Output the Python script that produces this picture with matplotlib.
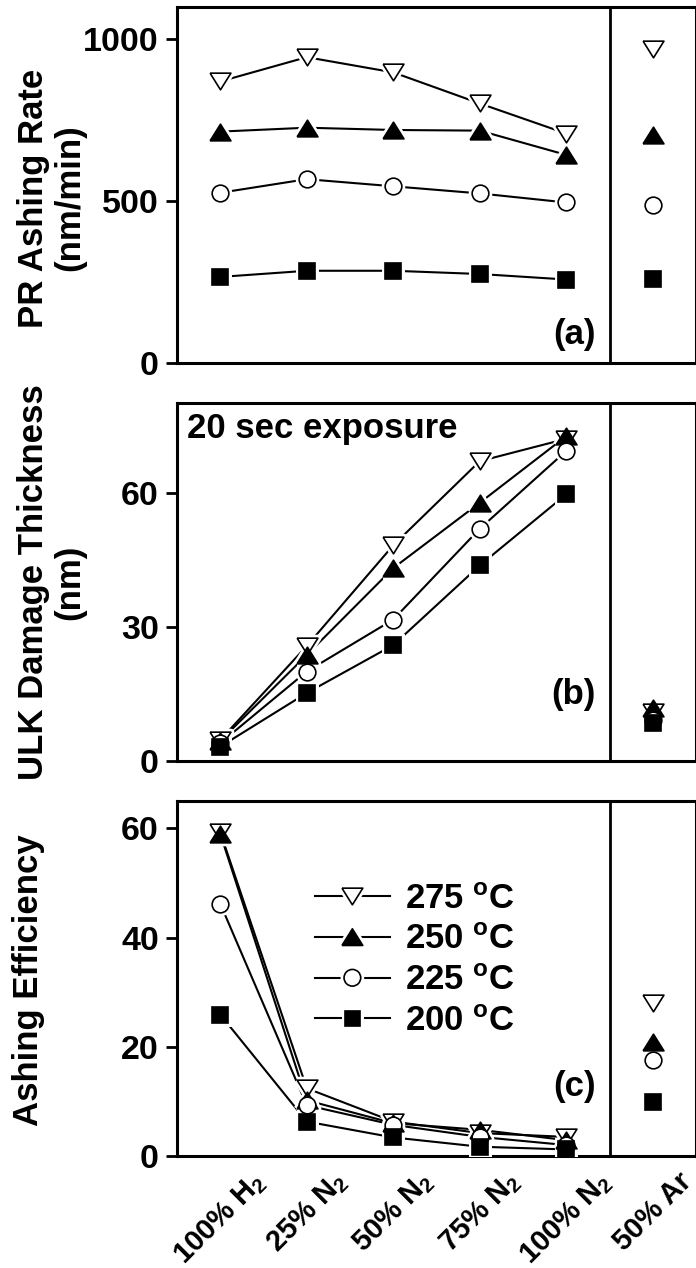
"""Ashing rate, ULK damage and ashing efficiency vs. gas mixture, three stacked panels."""
import matplotlib
matplotlib.use('Agg')
import matplotlib.pyplot as plt
import matplotlib.patheffects as pe
from matplotlib.lines import Line2D

plt.rcParams['font.family'] = ['Liberation Sans', 'DejaVu Sans']
plt.rcParams['font.weight'] = 'bold'
plt.rcParams['mathtext.fontset'] = 'custom'
plt.rcParams['mathtext.rm'] = 'Liberation Sans:bold'
plt.rcParams['mathtext.it'] = 'Liberation Sans:bold'
plt.rcParams['mathtext.bf'] = 'Liberation Sans:bold'
plt.rcParams['mathtext.default'] = 'rm'

# gas chemistries; the last one (50% Ar) sits in its own column
gases = ['100% H$_2$', '25% N$_2$', '50% N$_2$', '75% N$_2$', '100% N$_2$', '50% Ar']
temps = ['275 $^{o}$C', '250 $^{o}$C', '225 $^{o}$C', '200 $^{o}$C']

# (a) PR ashing rate, nm/min
rate_275 = [870, 945, 898, 802, 709, 969]
rate_250 = [715, 727, 720, 718, 643, 705]
rate_225 = [526, 568, 546, 524, 496, 488]
rate_200 = [266, 285, 285, 275, 258, 259]

# (b) ULK damage thickness after 20 s, nm
dmg_275 = [4.7, 25.7, 48.2, 67.0, 72.0, 11.0]
dmg_250 = [4.5, 23.7, 43.1, 57.7, 72.6, 11.8]
dmg_225 = [4.0, 20.0, 31.6, 51.9, 69.3, 9.2]
dmg_200 = [3.2, 15.2, 25.9, 43.7, 59.6, 8.6]

# (c) ashing efficiency
eff_275 = [59.3, 12.4, 6.3, 4.2, 3.5, 28.1]
eff_250 = [59.0, 10.2, 6.0, 4.8, 2.9, 20.9]
eff_225 = [46.2, 9.3, 5.7, 3.5, 2.0, 17.6]
eff_200 = [25.9, 6.3, 3.4, 1.7, 1.2, 9.9]

TRI_DOWN = [(-1, 0.8), (1, 0.8), (0, -0.8), (-1, 0.8)]
TRI_UP = [(-1, -0.8), (1, -0.8), (0, 0.8), (-1, -0.8)]
STYLES = [
    dict(marker=TRI_DOWN, markersize=15, markerfacecolor='white'),
    dict(marker=TRI_UP, markersize=15, markerfacecolor='black'),
    dict(marker='o', markersize=12, markerfacecolor='white'),
    dict(marker='s', markersize=11, markerfacecolor='black'),
]
FS = 25
xpos = list(range(len(gases)))


def draw_panel(ax, series, ylim, yticks, letter, letter_y):
    # connecting lines only over the H2/N2 mixtures
    for ys in series:
        ax.plot(xpos[:5], ys[:5], color='black', lw=1.5, zorder=2)
    # white halo so lines stop short of the symbols
    for ys, st in zip(series, STYLES):
        ax.plot(xpos, ys, ls='none', marker=st['marker'], markersize=st['markersize'],
                markerfacecolor='white', markeredgecolor='white', markeredgewidth=5, zorder=3)
    for ys, st in zip(series, STYLES):
        ax.plot(xpos, ys, ls='none', color='black', markeredgecolor='black',
                markeredgewidth=1.2, zorder=4, **st)
    ax.axvline(4.5, color='black', lw=2.0, zorder=5)
    ax.set_xlim(-0.5, 5.5)
    ax.set_ylim(*ylim)
    ax.set_yticks(yticks)
    ax.set_xticks(xpos)
    ax.tick_params(axis='y', direction='out', length=8, width=2, labelsize=24.5, pad=5)
    ax.tick_params(axis='x', length=0, labelsize=21, pad=8)
    ax.set_xticklabels([])
    for sp in ax.spines.values():
        sp.set_linewidth(2.2)
    ax.text(0.807, letter_y, letter, transform=ax.transAxes, ha='right', va='bottom',
            fontsize=FS, fontweight='bold')


fig = plt.figure(figsize=(6.96, 12.68), dpi=100)
left = 177 / 696
width = 1.0 - left
ax_a = fig.add_axes([left, 0.71372, width, 0.28076])
ax_b = fig.add_axes([left, 0.39984, width, 0.28233])
ax_c = fig.add_axes([left, 0.08833, width, 0.27997])

draw_panel(ax_a, [rate_275, rate_250, rate_225, rate_200], (0, 1100), [0, 500, 1000], '(a)', 0.035)
draw_panel(ax_b, [dmg_275, dmg_250, dmg_225, dmg_200], (0, 80), [0, 30, 60], '(b)', 0.14)
draw_panel(ax_c, [eff_275, eff_250, eff_225, eff_200], (0, 65), [0, 20, 40, 60], '(c)', 0.15)

ax_b.text(0.019, 0.975, '20 sec exposure', transform=ax_b.transAxes, ha='left', va='top',
          fontsize=FS, fontweight='bold')

ax_c.set_xticklabels(gases, rotation=45, ha='center', va='top', fontweight='bold')

handles = [Line2D([], [], color='black', lw=1.5, markeredgecolor='black', markeredgewidth=1.2,
                  path_effects=[pe.withStroke(linewidth=5, foreground='white')], **st)
           for st in STYLES]
ax_c.legend(handles, temps, loc='upper left', bbox_to_anchor=(0.266, 0.77), frameon=False,
            fontsize=FS, handlelength=2.15, handletextpad=0.45, labelspacing=0.22,
            borderpad=0, borderaxespad=0, numpoints=1)

# y axis titles
fig.text(51.5 / 696, 1 - 198 / 1268, 'PR Ashing Rate\n(nm/min)', rotation=90, ha='center',
         va='center', ma='center', fontsize=FS, fontweight='bold', linespacing=1.15)
fig.text(51.5 / 696, 1 - 582 / 1268, 'ULK Damage Thickness\n(nm)', rotation=90, ha='center',
         va='center', ma='center', fontsize=FS, fontweight='bold', linespacing=1.15)
fig.text(28.5 / 696, 1 - 980 / 1268, 'Ashing Efficiency', rotation=90, ha='center',
         va='center', fontsize=FS, fontweight='bold')

fig.savefig('out.png', dpi=100)
